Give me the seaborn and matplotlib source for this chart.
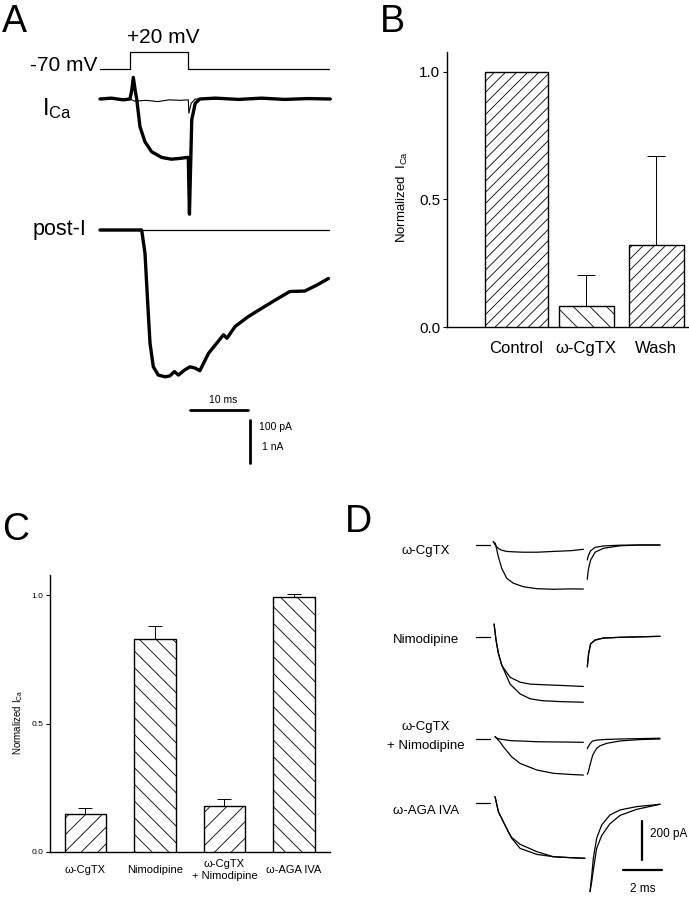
import matplotlib
matplotlib.use('Agg')
import matplotlib.pyplot as plt
import seaborn as sns
import numpy as np

sns.set_style('ticks')
plt.rcParams['font.family'] = ['Liberation Sans', 'DejaVu Sans']
plt.rcParams.update({
    'mathtext.fontset': 'custom',
    'mathtext.rm': 'Liberation Sans',
    'hatch.linewidth': 0.6,
    'text.color': 'black',
    'axes.labelcolor': 'black',
    'xtick.color': 'black',
    'ytick.color': 'black',
    'axes.edgecolor': 'black',
})

# ---------------- data ----------------
# Panel A: voltage step (ms, mV)
step_t = [0, 5.2, 5.2, 15.3, 15.3, 39.7]
step_mv = [-70, -70, 20, 20, -70, -70]

# Panel A: presynaptic I_Ca (ms, pA), control (thick) and after toxin (thin)
ica_t = [0, 2, 4, 5.2, 5.5, 5.77, 6.1, 6.36, 6.93, 7.8, 8.96, 10.7, 12.4, 14.0,
         15.0, 15.3, 15.5, 15.9, 16.5, 17.3, 20, 24, 28, 32, 36, 39.9]
ica_ctrl = [0, 2, -2, 0, 20, 50, 20, 0, -64, -99, -122, -135, -139, -137,
            -135, -135, -266, -48, -10, 0, 2, -1, 2, -1, 1, 0]
ica_tox_t = [0, 5.2, 6.0, 8.0, 10.0, 12.0, 14.0, 15.3, 15.4, 15.8, 16.5, 39.9]
ica_tox = [0, 0, -5, -3, -6, -2, -3, -2, -33, -10, 0, 0]

# Panel A: postsynaptic current (ms, nA)
post_t = [0, 7.22, 7.8, 8.27, 8.67, 9.24, 10.1, 11.3, 12.1, 12.9, 13.6, 14.7, 15.6,
          16.5, 17.3, 18.8, 21.4, 22.0, 23.4, 25.7, 28.0, 30.6, 32.9, 35.5, 37.6, 39.6]
post_ctrl = [0, 0, -0.54, -1.69, -2.62, -3.16, -3.35, -3.39, -3.37, -3.27, -3.35, -3.23, -3.16,
             -3.19, -3.25, -2.85, -2.42, -2.50, -2.23, -2.00, -1.81, -1.60, -1.42, -1.41, -1.27, -1.12]
post_tox_t = [0, 39.7]
post_tox = [0, 0]

# Panel B: normalized I_Ca
b_groups = ['Control', 'ω-CgTX', 'Wash']
b_means = [1.0, 0.085, 0.321]
b_sem = [0.0, 0.121, 0.350]

# Panel C: normalized I_Ca with blockers
c_groups = ['ω-CgTX', 'Nimodipine', 'ω-CgTX\n+ Nimodipine', 'ω-AGA IVA']
c_means = [0.148, 0.828, 0.179, 0.993]
c_sem = [0.024, 0.051, 0.026, 0.013]

# Panel D: example I_Ca traces (ms, pA); pre-pulse baseline, pulse, tail
d_pre_t = [-0.89, -0.17]
d_pre = [0, 0]
d_names = ['ω-CgTX', 'Nimodipine', 'ω-CgTX\n+ Nimodipine', 'ω-AGA IVA']

cgtx_on_t = [0, 0.1, 0.26, 0.43, 0.69, 1.03, 1.54, 2.23, 3.08, 4.0, 4.62]
cgtx_on_ctrl = [17, 9, -60, -119, -171, -196, -214, -224, -227, -225, -226]
cgtx_on_drug = [17, 0, -18, -27, -33, -35, -37, -37, -33, -29, -22]
cgtx_off_t = [4.82, 4.87, 4.99, 5.22, 5.64, 6.5, 7.5, 8.55]
cgtx_off_ctrl = [-176, -128, -77, -37, -17, -4, 0, 0]
cgtx_off_drug = [-77, -55, -30, -12, -5, -1, 0, 0]

nimo_on_t = [0.04, 0.14, 0.26, 0.43, 0.51, 0.86, 1.37, 1.88, 2.5, 3.5, 4.62]
nimo_on_ctrl = [68, -14, -82, -142, -160, -240, -290, -315, -325, -330, -333]
nimo_on_drug = [68, -14, -82, -142, -155, -205, -230, -240, -243, -247, -252]
nimo_off_t = [4.82, 4.89, 4.99, 5.22, 5.64, 6.5, 8.55]
nimo_off_ctrl = [-151, -82, -34, -14, -4, 0, 5]
nimo_off_drug = [-151, -82, -34, -14, -4, 0, 5]

both_on_t = [0.09, 0.17, 0.34, 0.51, 0.94, 1.37, 2.23, 3.08, 4.0, 4.62]
both_on_ctrl = [12, 4, -15, -39, -91, -125, -159, -176, -182, -185]
both_on_drug = [12, 4, 0, -3, -9, -10, -14, -15, -16, -17]
both_off_t = [4.82, 4.87, 4.96, 5.05, 5.1, 5.3, 5.47, 5.82, 6.5, 7.5, 8.55]
both_off_ctrl = [-181, -170, -133, -100, -82, -48, -35, -22, -10, -3, 0]
both_off_drug = [-50, -39, -25, -14, -10, -6, -4, -2, 0, 2, 4]

aga_on_t = [0.09, 0.26, 0.51, 0.77, 0.94, 1.37, 2.23, 3.08, 4.0, 4.7]
aga_on_ctrl = [34, -43, -94, -146, -179, -231, -262, -274, -279, -282]
aga_on_drug = [34, -43, -94, -146, -175, -210, -248, -274, -279, -282]
aga_off_t = [4.96, 5.05, 5.13, 5.3, 5.56, 5.98, 6.5, 7.35, 8.55]
aga_off_ctrl = [-453, -368, -282, -179, -111, -60, -34, -17, -5]
aga_off_drug = [-453, -400, -342, -231, -165, -105, -62, -31, -5]

# ---------------- layout helpers (pixel coordinates, origin top-left) ----------------
W, H = 689, 899
fig = plt.figure(figsize=(W / 100, H / 100), dpi=100)


def px_axes(left, right, top, bottom):
    return fig.add_axes([left / W, 1 - bottom / H, (right - left) / W, (bottom - top) / H])


def trace_axes(left, right, top, bottom, x0_px, px_per_x, y0_px, px_per_y):
    ax = px_axes(left, right, top, bottom)
    ax.set_xlim((left - x0_px) / px_per_x, (right - x0_px) / px_per_x)
    ax.set_ylim((y0_px - bottom) / px_per_y, (y0_px - top) / px_per_y)
    ax.axis('off')
    ax.patch.set_alpha(0)
    return ax


def ftext(x, y, s, **kw):
    kw.setdefault('va', 'baseline')
    fig.text(x / W, 1 - y / H, s, **kw)


def trace(ax, t, v, lw):
    sns.lineplot(x=t, y=v, estimator=None, sort=False, color='black',
                 linewidth=lw, ax=ax)


# ---------------- Panel A ----------------
ms_px = 5.77
ax_v = trace_axes(95, 335, 40, 80, 100, ms_px, 55.56, 0.192)
trace(ax_v, step_t, step_mv, 0.9)

ax_i = trace_axes(95, 335, 70, 220, 100, ms_px, 99, 0.433)
trace(ax_i, ica_tox_t, ica_tox, 0.8)
trace(ax_i, ica_t, ica_ctrl, 2.4)

ax_p = trace_axes(95, 335, 220, 470, 100, ms_px, 230, 43.3)
trace(ax_p, post_tox_t, post_tox, 0.9)
trace(ax_p, post_t, post_ctrl, 2.4)
# scale bars: 10 ms, 1 nA (= 100 pA for I_Ca)
ax_p.plot([15.6, 25.6], [-4.157, -4.157], color='black', lw=2.0, clip_on=False)
ax_p.plot([26.0, 26.0], [-4.39, -5.39], color='black', lw=2.0, clip_on=False)
ax_p.text(21.4, -4.0, '10 ms', fontsize=7.5, ha='center', va='baseline')
ax_p.text(27.6, -4.62, '100 pA', fontsize=7.5, ha='left', va='baseline')
ax_p.text(28.1, -5.08, '1 nA', fontsize=7.5, ha='left', va='baseline')

ftext(2, 32, 'A', fontsize=27)
ftext(163, 43.3, '+20 mV', fontsize=15, ha='center')
ftext(97, 70.7, '-70 mV', fontsize=15, ha='right')
ftext(42, 115, r'$\mathregular{I_{Ca}}$', fontsize=17, ha='left')
ftext(33, 235, 'post-I', fontsize=15.5, ha='left')


# ---------------- bar panels ----------------
def bar_panel(ax, groups, means, sem, hatches, width, capsize):
    sns.barplot(x=groups, y=means, order=groups, color='white', edgecolor='black',
                linewidth=1.0, width=width, errorbar=None, ax=ax, zorder=3)
    for patch, h in zip(ax.patches, hatches):
        patch.set_hatch(h)
    ax.errorbar(np.arange(len(groups)), means, yerr=[np.zeros(len(sem)), sem],
                fmt='none', ecolor='black', elinewidth=0.7, capsize=capsize,
                capthick=0.7, zorder=2)
    ax.set_ylim(0, 1.078)
    ax.set_yticks([0, 0.5, 1.0])
    ax.set_yticklabels(['0.0', '0.5', '1.0'])
    for side in ['top', 'right']:
        ax.spines[side].set_visible(False)
    for side in ['left', 'bottom']:
        ax.spines[side].set_linewidth(1.0)
    ax.patch.set_alpha(0)


# Panel B
ax_b = px_axes(446.7, 689, 51.7, 327.3)
bar_panel(ax_b, b_groups, b_means, b_sem, ['///', '\\\\', '///'], 0.79, 6.5)
ax_b.patches[0].set_width(0.89)
ax_b.patches[0].set_x(-0.445)
ax_b.set_xlim(-1.0, 2.47)
ax_b.tick_params(axis='y', length=3, width=0.8, labelsize=11, pad=1.5)
ax_b.tick_params(axis='x', length=0, labelsize=12, pad=10)
ax_b.set_ylabel(r'Normalized  $\mathregular{I_{Ca}}$', fontsize=9.5)
ax_b.yaxis.set_label_coords(-0.151, 0.473)
ftext(380, 32, 'B', fontsize=27)

# Panel C
ax_c = px_axes(50, 330, 575, 852)
bar_panel(ax_c, c_groups, c_means, c_sem, ['//', '\\\\', '//', '\\\\'], 0.6, 5)
ax_c.set_xlim(-0.51, 3.52)
ax_c.tick_params(axis='y', length=3, width=0.8, labelsize=6, pad=2)
ax_c.tick_params(axis='x', length=0, labelsize=8, pad=13)
for lbl in ax_c.get_xticklabels():
    lbl.set_va('center')
    lbl.set_linespacing(1.25)
ax_c.set_ylabel(r'Normalized $\mathregular{I_{Ca}}$', fontsize=7)
ax_c.yaxis.set_label_coords(-0.089, 0.469)
ftext(2, 540, 'C', fontsize=27)

# ---------------- Panel D ----------------
d_ms_px, d_pa_px, d_t0 = 19.5, 0.195, 493.3
d_base = [545, 637.3, 739, 803.3]
d_sets = [
    (cgtx_on_t, cgtx_on_ctrl, cgtx_on_drug, cgtx_off_t, cgtx_off_ctrl, cgtx_off_drug),
    (nimo_on_t, nimo_on_ctrl, nimo_on_drug, nimo_off_t, nimo_off_ctrl, nimo_off_drug),
    (both_on_t, both_on_ctrl, both_on_drug, both_off_t, both_off_ctrl, both_off_drug),
    (aga_on_t, aga_on_ctrl, aga_on_drug, aga_off_t, aga_off_ctrl, aga_off_drug),
]
d_axes = []
for base, (on_t, on_c, on_d, off_t, off_c, off_d) in zip(d_base, d_sets):
    ax = trace_axes(470, 689, base - 60, base + 95, d_t0, d_ms_px, base, d_pa_px)
    for t, v in [(d_pre_t, d_pre), (on_t, on_c), (on_t, on_d), (off_t, off_c), (off_t, off_d)]:
        trace(ax, t, v, 0.9)
    d_axes.append(ax)

ax4 = d_axes[-1]
ax4.plot([7.64, 7.64], [-91, -291], color='black', lw=1.6, clip_on=False)
ax4.plot([6.67, 8.67], [-342, -342], color='black', lw=1.6, clip_on=False)
ax4.text(8.04, -171, '200 pA', fontsize=8.5, ha='left', va='baseline')
ax4.text(7.64, -453, '2 ms', fontsize=8.5, ha='center', va='baseline')

ftext(345, 531.7, 'D', fontsize=27)
ftext(426, 554, d_names[0], fontsize=9.5, ha='center')
ftext(426, 643, d_names[1], fontsize=9.5, ha='center')
ftext(426, 730, d_names[2].split('\n')[0], fontsize=9.5, ha='center')
ftext(426, 749, d_names[2].split('\n')[1], fontsize=9.5, ha='center')
ftext(426, 814, d_names[3], fontsize=9.5, ha='center')

fig.savefig('out.png', dpi=100, facecolor='white')
